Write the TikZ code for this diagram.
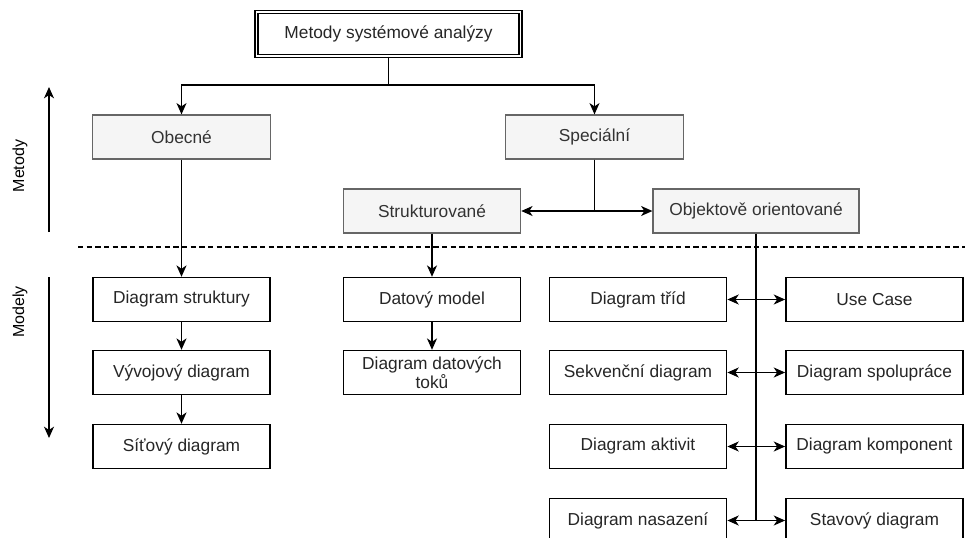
\documentclass[tikz,border=0pt]{standalone}
\usepackage{fontspec}
\setmainfont{Liberation Sans}
\usetikzlibrary{arrows.meta}
\definecolor{boxgray}{HTML}{F5F5F5}
\definecolor{linegray}{HTML}{666666}
\definecolor{textgray}{HTML}{333333}

\begin{document}
\begin{tikzpicture}[x=0.75pt,y=-0.75pt,
  font=\fontsize{13}{16}\selectfont,
  line width=1.1pt,
  box/.style={draw,fill=white,minimum width=133pt,minimum height=33pt,
    inner sep=1pt,align=center,text=black!85},
  gbox/.style={box,draw=linegray,fill=boxgray,text=textgray,line width=0.9pt},
  arr/.style={-{Stealth[length=8.5pt,width=7.5pt,inset=2.5pt]}},
  dbl/.style={{Stealth[length=8.5pt,width=7.5pt,inset=2.5pt]}-{Stealth[length=8.5pt,width=7.5pt,inset=2.5pt]}}]
  \useasboundingbox (0,0) rectangle (965,537);

  \node[box,double,line width=1.2pt,double distance=0.8pt,minimum width=198pt,
    minimum height=33pt] (metody) at (388.5,34) {Metody systémové analýzy};

  \node[gbox] (obecne) at (181.5,137) {Obecné};
  \node[gbox] (specialni) at (594.5,137) {Speciální};
  \node[gbox] (strukt) at (432,211) {Strukturované};
  \node[gbox,minimum width=154.5pt] (objekt) at (756,211) {Objektově orientované};

  \node[box] (dstrukt) at (181.5,299.5) {Diagram struktury};
  \node[box] (vyvoj) at (181.5,372.5) {Vývojový diagram};
  \node[box] (sitovy) at (181.5,446.5) {Síťový diagram};
  \node[box] (datmodel) at (432,299.5) {Datový model};
  \node[box] (dtoky) at (432,372.5) {Diagram datových\\[-2pt]toků};

  \node[box] (trid) at (638,299.5) {Diagram tříd};
  \node[box] (sekvence) at (638,372.5) {Sekvenční diagram};
  \node[box] (aktivit) at (638,446.5) {Diagram aktivit};
  \node[box] (nasazeni) at (638,520.5) {Diagram nasazení};
  \node[box] (usecase) at (874.5,299.5) {Use Case};
  \node[box] (spoluprace) at (874.5,372.5) {Diagram spolupráce};
  \node[box] (komponent) at (874.5,446.5) {Diagram komponent};
  \node[box] (stavovy) at (874.5,520.5) {Stavový diagram};

  \node[rotate=90,font=\fontsize{12}{14}\selectfont] (lmetody) at (20,166) {Metody};
  \node[rotate=90,font=\fontsize{12}{14}\selectfont] (lmodely) at (20,312) {Modely};
  \coordinate (mtop) at (49,87);
  \coordinate (mbot) at (49,232);
  \coordinate (mdtop) at (49,277);
  \coordinate (mdbot) at (49,438);
  \draw[arr] (mbot) -- (mtop);
  \draw[arr] (mdtop) -- (mdbot);

  \coordinate (dleft) at (78,247);
  \coordinate (dright) at (965,247);
  \draw[line width=0.8pt,dash pattern=on 4pt off 2.5pt] (dleft) -- (dright);

  \draw[arr] (metody.south) -- ++(0,28) -| (obecne.north);
  \draw[arr] (metody.south) -- ++(0,28) -| (specialni.north);
  \draw[arr] (specialni.south) |- (strukt.east);
  \draw[arr] (specialni.south) |- (objekt.west);

  \draw[arr] (obecne) -- (dstrukt);
  \draw[arr] (dstrukt) -- (vyvoj);
  \draw[arr] (vyvoj) -- (sitovy);
  \draw[arr] (strukt) -- (datmodel);
  \draw[arr] (datmodel) -- (dtoky);

  \draw (objekt.south) -- (objekt.south |- nasazeni.east);
  \draw[dbl] (trid) -- (usecase);
  \draw[dbl] (sekvence) -- (spoluprace);
  \draw[dbl] (aktivit) -- (komponent);
  \draw[dbl] (nasazeni) -- (stavovy);
\end{tikzpicture}
\end{document}
